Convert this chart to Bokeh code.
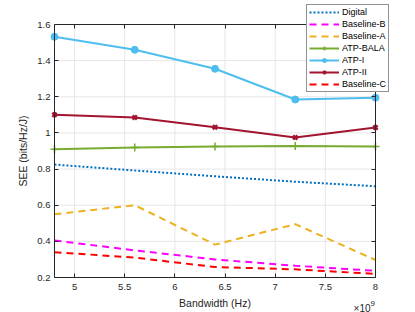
from bokeh.plotting import figure
from bokeh.models import (FixedTicker, LinearAxis, Range1d, Legend, LegendItem,
                          Label, CustomJSTickFormatter)
from bokeh.embed import file_html
from bokeh.resources import INLINE

bandwidth = [4.8e9, 5.6e9, 6.4e9, 7.2e9, 8.0e9]
digital = [0.825, 0.792, 0.760, 0.730, 0.705]
baseline_b = [0.405, 0.350, 0.300, 0.265, 0.237]
baseline_a = [0.550, 0.600, 0.382, 0.495, 0.297]
atp_bala = [0.910, 0.920, 0.925, 0.927, 0.925]
atp_i = [1.532, 1.460, 1.355, 1.185, 1.195]
atp_ii = [1.100, 1.085, 1.032, 0.975, 1.030]
baseline_c = [0.340, 0.310, 0.258, 0.245, 0.220]

x_ticks = [5e9, 5.5e9, 6e9, 6.5e9, 7e9, 7.5e9, 8e9]
y_ticks = [0.2, 0.4, 0.6, 0.8, 1.0, 1.2, 1.4, 1.6]
x_lim = (4.8e9, 8e9)
y_lim = (0.2, 1.6)

FONT = "Liberation Sans"
AX = "#262626"
GRID = "#e6e6e6"

W, H = 415, 312
# axes box position on the canvas (pixels)
BOX_L, BOX_R, BOX_T, BOX_B = 54, 375, 24, 277
sx = (x_lim[1] - x_lim[0]) / (BOX_R - BOX_L)
sy = (y_lim[1] - y_lim[0]) / (BOX_B - BOX_T)
xr = Range1d(x_lim[0] - BOX_L * sx, x_lim[1] + (W - BOX_R) * sx)
yr = Range1d(y_lim[0] - (H - BOX_B) * sy, y_lim[1] + BOX_T * sy)

p = figure(width=W, height=H, output_backend="svg", toolbar_location=None,
           x_range=xr, y_range=yr, x_axis_location=None, y_axis_location=None,
           min_border=0, background_fill_color="white", border_fill_color="white")
p.outline_line_color = None
p.xgrid.visible = False
p.ygrid.visible = False

# grid lines inside the axes box
p.segment(x0=x_ticks, x1=x_ticks, y0=[y_lim[0]] * len(x_ticks), y1=[y_lim[1]] * len(x_ticks),
          line_color=GRID, line_width=1)
p.segment(x0=[x_lim[0]] * len(y_ticks), x1=[x_lim[1]] * len(y_ticks), y0=y_ticks, y1=y_ticks,
          line_color=GRID, line_width=1)

empty = CustomJSTickFormatter(code="return '';")


def style(ax):
    ax.major_tick_in = 4
    ax.major_tick_out = 0
    ax.minor_tick_in = 0
    ax.minor_tick_out = 0
    ax.axis_line_color = AX
    ax.axis_line_width = 1
    ax.major_tick_line_color = AX
    ax.major_label_text_font = FONT
    ax.major_label_text_font_size = "9.5px"
    ax.major_label_text_color = AX
    ax.axis_label_text_font = FONT
    ax.axis_label_text_font_size = "10.5px"
    ax.axis_label_text_font_style = "normal"
    ax.axis_label_text_color = AX


xb = LinearAxis(ticker=FixedTicker(ticks=x_ticks), fixed_location=y_lim[0], bounds=x_lim,
                formatter=CustomJSTickFormatter(code="return String(Number((tick/1e9).toFixed(1)));"),
                axis_label="Bandwidth (Hz)")
style(xb)
xb.major_label_standoff = 6
xb.axis_label_standoff = 4
p.add_layout(xb, "below")

yl = LinearAxis(ticker=FixedTicker(ticks=y_ticks), fixed_location=x_lim[0], bounds=y_lim,
                formatter=CustomJSTickFormatter(code="return String(Number(tick.toFixed(1)));"),
                axis_label="SEE (bits/Hz/J)")
style(yl)
yl.major_label_standoff = 4
yl.axis_label_standoff = 5
p.add_layout(yl, "left")

xt = LinearAxis(ticker=FixedTicker(ticks=x_ticks), fixed_location=y_lim[1], bounds=x_lim,
                formatter=empty)
style(xt)
p.add_layout(xt, "above")

yr_ax = LinearAxis(ticker=FixedTicker(ticks=y_ticks), fixed_location=x_lim[1], bounds=y_lim,
                   formatter=empty)
style(yr_ax)
p.add_layout(yr_ax, "right")

r_dig = p.line(bandwidth, digital, line_color="#0072BD", line_width=2, line_dash="2 2")
r_bb = p.line(bandwidth, baseline_b, line_color="#FF00FF", line_width=2, line_dash="7 5")
r_ba = p.line(bandwidth, baseline_a, line_color="#EDB120", line_width=2, line_dash="7 5")
r_bala = p.line(bandwidth, atp_bala, line_color="#77AC30", line_width=2)
r_bala_m = p.scatter(bandwidth, atp_bala, marker="cross", size=8, line_color="#77AC30", line_width=1.5)
r_i = p.line(bandwidth, atp_i, line_color="#4DBEEE", line_width=2)
r_i_m = p.scatter(bandwidth, atp_i, marker="circle", size=7, fill_color="#4DBEEE", line_color="#4DBEEE")
r_ii = p.line(bandwidth, atp_ii, line_color="#A2142F", line_width=2)
r_ii_m = p.scatter(bandwidth, atp_ii, marker="x", size=6, line_color="#A2142F", line_width=2.5)
r_bc = p.line(bandwidth, baseline_c, line_color="#FF0000", line_width=2, line_dash="7 5")

legend = Legend(items=[
    LegendItem(label="Digital", renderers=[r_dig]),
    LegendItem(label="Baseline-B", renderers=[r_bb]),
    LegendItem(label="Baseline-A", renderers=[r_ba]),
    LegendItem(label="ATP-BALA", renderers=[r_bala, r_bala_m]),
    LegendItem(label="ATP-I", renderers=[r_i, r_i_m]),
    LegendItem(label="ATP-II", renderers=[r_ii, r_ii_m]),
    LegendItem(label="Baseline-C", renderers=[r_bc]),
], location=(306, H - 92))
legend.label_text_font = FONT
legend.label_text_font_size = "9px"
legend.label_text_color = "black"
legend.label_height = 10
legend.glyph_height = 10
legend.glyph_width = 30
legend.spacing = 2
legend.padding = 2
legend.margin = 0
legend.label_standoff = 3
legend.border_line_color = AX
legend.border_line_width = 1
legend.background_fill_alpha = 1
p.add_layout(legend, "center")

p.add_layout(Label(x=x_lim[1], y=y_lim[0], x_offset=-5, y_offset=-36, text="×10",
                   text_font=FONT, text_font_size="10px", text_color=AX,
                   text_align="right", text_baseline="bottom"))
p.add_layout(Label(x=x_lim[1], y=y_lim[0], x_offset=-5, y_offset=-28, text="9",
                   text_font=FONT, text_font_size="8px", text_color=AX,
                   text_align="left", text_baseline="bottom"))

open("out.html", "w").write(file_html(p, INLINE))
